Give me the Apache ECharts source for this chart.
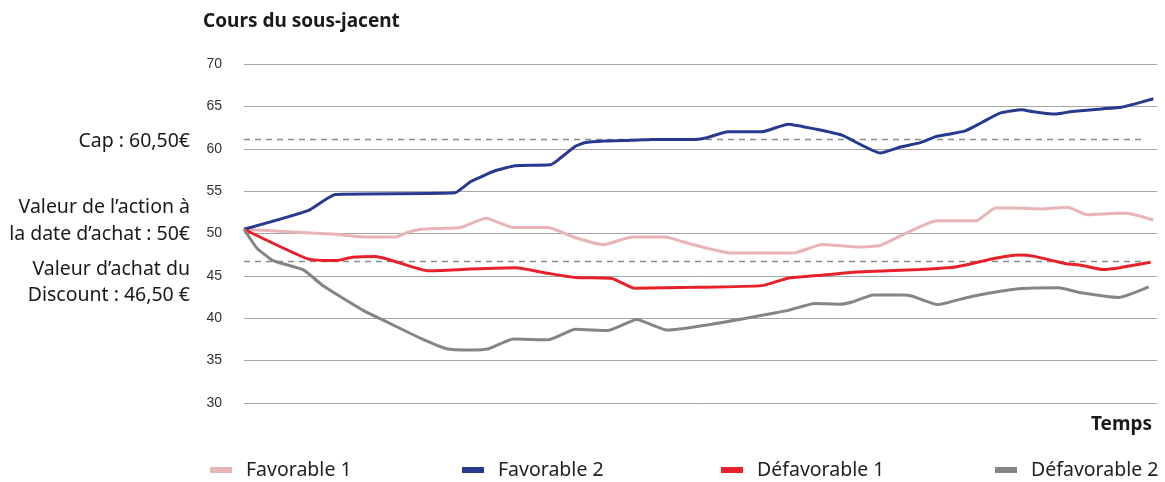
<!DOCTYPE html>
<html>
<head>
<meta charset="utf-8">
<script src="https://cdn.jsdelivr.net/npm/echarts@6/dist/echarts.min.js"></script>
<style>
  html, body { margin: 0; padding: 0; background: #fff; }
  #chart { width: 1165px; height: 482px; }
</style>
</head>
<body>
<div id="chart"></div>
<script>
// axe vertical
const yTicks = [30, 35, 40, 45, 50, 55, 60, 65, 70];

// niveaux en pointillés (cap / discount)
const capLevel = 61.1;
const discountLevel = 46.7;
const levelEnd = 98.5;

// trajectoires : [temps (0-100), cours]
const favorable1 = [
    [0, 50.5], [6.8, 50.1], [10.1, 49.9], [13.1, 49.6], [16.7, 49.6], [17.8, 50.1],
    [19.4, 50.5], [21.5, 50.6], [23.7, 50.7], [26.5, 51.8], [29.5, 50.7], [33.3, 50.7],
    [36.3, 49.5], [39.4, 48.7], [42.5, 49.6], [46.1, 49.6], [49.1, 48.7], [53.3, 47.7],
    [60.2, 47.7], [63.3, 48.7], [67.4, 48.4], [69.7, 48.6], [75.9, 51.5], [78.3, 51.5],
    [80.2, 51.5], [82.3, 53.0], [84.5, 53.0], [87.4, 52.9], [90.2, 53.1], [92.4, 52.2],
    [95.6, 52.4], [96.7, 52.4], [99.6, 51.6],
];
const favorable2 = [
    [0, 50.5], [7.0, 52.7], [10.0, 54.6], [23.1, 54.8], [24.8, 56.1], [27.5, 57.4],
    [29.7, 58.0], [33.5, 58.1], [34.3, 58.6], [36.3, 60.3], [37.3, 60.7], [39.5, 60.9],
    [42.5, 61.0], [44.7, 61.1], [47.6, 61.1], [49.4, 61.1], [50.7, 61.3], [53.0, 62.0],
    [56.7, 62.0], [59.6, 62.9], [62.7, 62.3], [65.5, 61.6], [69.7, 59.5], [71.9, 60.2],
    [74.0, 60.7], [75.7, 61.4], [77.1, 61.7], [79.0, 62.1], [80.8, 63.1], [82.8, 64.2],
    [85.2, 64.6], [86.3, 64.4], [88.5, 64.1], [89.6, 64.2], [90.7, 64.4], [93.9, 64.7],
    [96.1, 64.9], [97.6, 65.3], [99.6, 65.9],
];
const defavorable1 = [
    [0, 50.5], [7.0, 47.0], [10.1, 46.8], [11.9, 47.2], [14.4, 47.3], [20.2, 45.6],
    [24.8, 45.8], [29.7, 45.95], [33.3, 45.3], [36.3, 44.8], [40.3, 44.7], [42.8, 43.55],
    [49.4, 43.65], [56.7, 43.85], [59.5, 44.7], [63.5, 45.1], [67.1, 45.45], [74.0, 45.75],
    [77.1, 45.95], [79.3, 46.35], [81.9, 47.0], [84.8, 47.45], [86.6, 47.3], [89.9, 46.45],
    [91.7, 46.25], [94.1, 45.75], [96.1, 46.0], [99.3, 46.6],
];
const defavorable2 = [
    [0, 50.5], [1.4, 48.3], [3.2, 46.8], [6.5, 45.7], [8.7, 43.8], [13.1, 40.9],
    [15.3, 39.75], [19.3, 37.65], [22.2, 36.4], [24.8, 36.25], [26.8, 36.4], [29.5, 37.55],
    [33.3, 37.45], [36.3, 38.7], [39.9, 38.55], [43.0, 39.85], [46.3, 38.6], [59.5, 40.9],
    [62.5, 41.75], [65.3, 41.65], [66.7, 41.95], [68.9, 42.75], [72.2, 42.75], [73.2, 42.6],
    [76.0, 41.6], [78.3, 42.2], [80.8, 42.8], [85.2, 43.5], [89.2, 43.6], [91.7, 43.0],
    [95.8, 42.45], [99.1, 43.7],
];

const seriesDefs = [
    { name: "Favorable 1", data: favorable1, color: "#e8b4b6" },
    { name: "Favorable 2", data: favorable2, color: "#283a90" },
    { name: "Défavorable 1", data: defavorable1, color: "#e8202a" },
    { name: "Défavorable 2", data: defavorable2, color: "#858587" },
];
const legendLeft = [205, 457, 716, 990];

const FONT = "Noto Sans";
const chart = echarts.init(document.getElementById("chart"), null, { renderer: "canvas" });

// textes à gauche du graphique
const sideTexts = [
    { text: "Cap : 60,50€", y: 139 },
    { text: "Valeur de l’action à", y: 205 },
    { text: "la date d’achat : 50€", y: 232 },
    { text: "Valeur d’achat du", y: 267 },
    { text: "Discount : 46,50 €", y: 293 },
];

const levelSeries = (name, v) => ({
    name,
    type: "line",
    data: [[0, v], [levelEnd, v]],
    symbol: "none",
    silent: true,
    z: 1,
    lineStyle: { color: "#8a8a8a", width: 1.5, type: [6, 5] },
});

const option = {
    animation: false,
    backgroundColor: "#fff",
    textStyle: { fontFamily: FONT },
    title: [
        {
            text: "Cours du sous-jacent",
            left: 198,
            top: 7,
            textStyle: { fontFamily: FONT, fontSize: 19, fontWeight: "bold", color: "#1a1a1a" },
        },
        {
            text: "Temps",
            right: 8,
            top: 410,
            textStyle: { fontFamily: FONT, fontSize: 19, fontWeight: "bold", color: "#1a1a1a" },
        },
    ],
    legend: seriesDefs.map((s, i) => ({
        data: [s.name],
        left: legendLeft[i],
        top: 455,
        icon: "rect",
        itemWidth: 22,
        itemHeight: 6,
        textStyle: { fontFamily: FONT, fontSize: 19.5, color: "#222", padding: [0, 0, 0, 9] },
    })),
    graphic: sideTexts.map((t) => ({
        type: "text",
        right: 1165 - 190,
        top: t.y - 8,
        style: { text: t.text, font: "19.5px 'Noto Sans'", fill: "#1a1a1a", textAlign: "right" },
    })),
    grid: { left: 244, right: 8, top: 64, bottom: 79 },
    xAxis: {
        type: "value",
        min: 0,
        max: 100,
        axisLine: { show: false },
        axisTick: { show: false },
        axisLabel: { show: false },
        splitLine: { show: false },
    },
    yAxis: {
        type: "value",
        min: yTicks[0],
        max: yTicks[yTicks.length - 1],
        interval: 5,
        axisLine: { show: false },
        axisTick: { show: false },
        axisLabel: { margin: 22, fontFamily: "Liberation Sans", fontSize: 14, color: "#333" },
        splitLine: { lineStyle: { color: "#a6a6a6", width: 1 } },
    },
    series: [
        levelSeries("Cap", capLevel),
        levelSeries("Discount", discountLevel),
        ...seriesDefs.map((s) => ({
            name: s.name,
            type: "line",
            data: s.data,
            symbol: "none",
            smooth: 0.15,
            z: 3,
            color: s.color,
            lineStyle: { color: s.color, width: 3 },
        })),
    ],
};

chart.setOption(option);
</script>
</body>
</html>
